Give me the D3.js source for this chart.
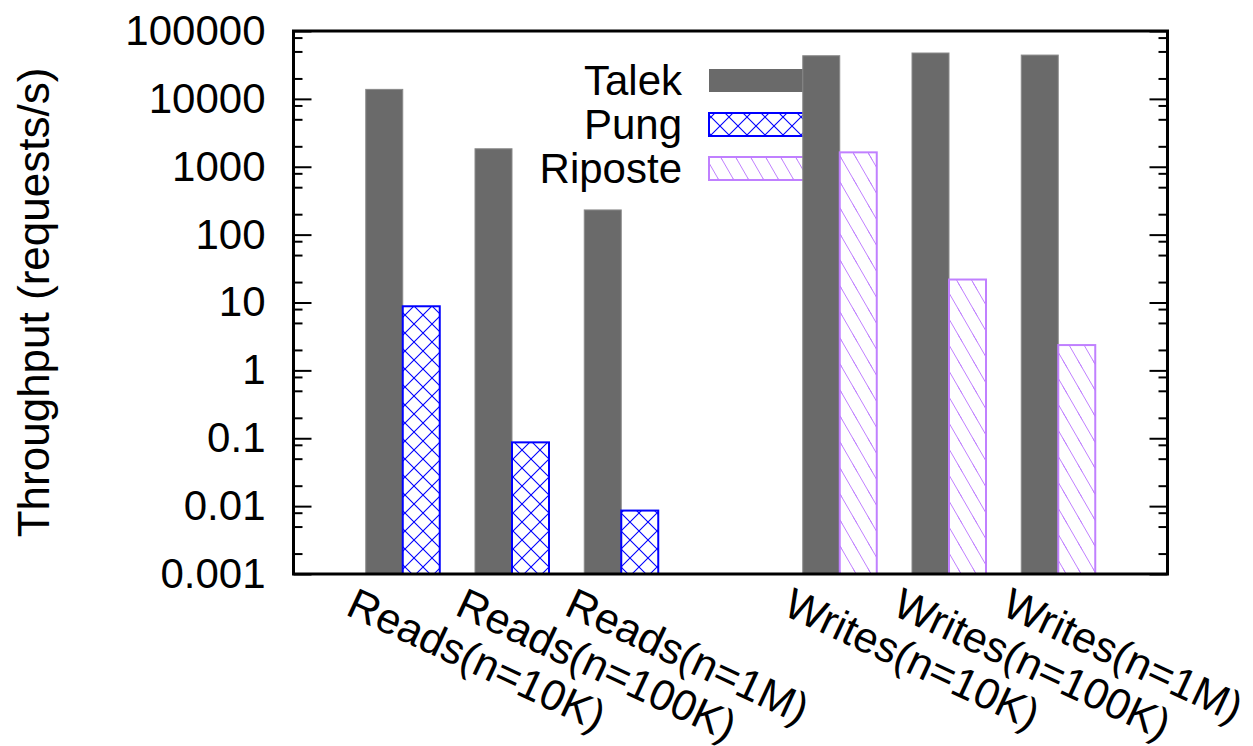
<!DOCTYPE html>
<html>
<head>
<meta charset="utf-8">
<script src="https://cdn.jsdelivr.net/npm/d3@7"></script>
<style>
  body { margin: 0; background: #fff; }
  svg { font-family: "Liberation Sans", Arial, Helvetica, sans-serif; }
</style>
</head>
<body>
<svg class="chart" width="1253" height="746"></svg>
<script>
// data
var categories = ["Reads(n=10K)", "Reads(n=100K)", "Reads(n=1M)", "Writes(n=10K)", "Writes(n=100K)", "Writes(n=1M)"];
var slots = [0, 1, 2, 4, 5, 6];   // gap between reads and writes
var talek = [13800, 1840, 231, 43200, 47400, 44200];
var pung = [8.8, 0.087, 0.0086, null, null, null];
var riposte = [null, null, null, 1630, 21.8, 2.36];
var majorTicks = [0.001, 0.01, 0.1, 1, 10, 100, 1000, 10000, 100000];
var minorSteps = [2, 5, 8];
var seriesNames = ["Talek", "Pung", "Riposte"];

var chart = d3.select('.chart'),
    plotLeft = 293.5, plotRight = 1167.5, plotTop = 31, plotBottom = 574,
    barW = 37;

var xScale = d3.scaleLinear().domain([-1, 7]).range([plotLeft, plotRight]);
var yScale = d3.scaleLog().domain([0.001, 100000]).range([plotBottom, plotTop]);

var minorTicks = [];
majorTicks.slice(0, -1).forEach(function(m){
  minorSteps.forEach(function(s){ minorTicks.push(m * s); });
});

// fill patterns
var defs = chart.append("defs");
var cross = defs.append("pattern")
    .attr("id", "cross")
    .attr("patternUnits", "userSpaceOnUse")
    .attr("width", 18).attr("height", 18);
cross.append("rect").attr("width", 18).attr("height", 18).attr("fill", "#fff");
cross.append("path")
    .attr("d", "M0,0L18,18M0,18L18,0M-2,2L2,-2M16,20L20,16M-2,16L2,20M16,-2L20,2")
    .attr("stroke", "#0000ff").attr("stroke-width", 1.1);

var hatch = defs.append("pattern")
    .attr("id", "hatch")
    .attr("patternUnits", "userSpaceOnUse")
    .attr("width", 15).attr("height", 26);
hatch.append("rect").attr("width", 15).attr("height", 26).attr("fill", "#fff");
hatch.append("path")
    .attr("d", "M0,0L15,26M-15,0L0,26M15,0L30,26M-2,-3.5L2,3.5M13,22.5L17,29.5")
    .attr("stroke", "#c080ff").attr("stroke-width", 1);

var styles = [
  {fill: "#6a6a6a", stroke: "#8a8a8a", sw: 1},
  {fill: "url(#cross)", stroke: "#0000ff", sw: 2},
  {fill: "url(#hatch)", stroke: "#c080ff", sw: 2}
];

// legend (bars get drawn over it)
var legend = chart.append("g");
seriesNames.forEach(function(name, i){
  var cy = 80.5 + i * 44;
  legend.append("text")
    .attr("x", 682).attr("y", cy).attr("dy", "0.35em")
    .attr("text-anchor", "end")
    .style("font-size", "42px")
    .text(name);
  legend.append("rect")
    .attr("x", 709).attr("y", cy - 11.5)
    .attr("width", 110).attr("height", 23)
    .attr("fill", styles[i].fill)
    .attr("stroke", i == 0 ? "none" : styles[i].stroke)
    .attr("stroke-width", styles[i].sw);
});

// bars
function drawBars(values, k, offset){
  var rows = values.map(function(v, i){ return {v: v, slot: slots[i]}; })
    .filter(function(d){ return d.v != null; });
  chart.append("g").selectAll("rect")
    .data(rows)
    .enter().append("rect")
      .attr("x", function(d){ return xScale(d.slot) + offset; })
      .attr("y", function(d){ return yScale(d.v); })
      .attr("width", barW)
      .attr("height", function(d){ return plotBottom - yScale(d.v); })
      .attr("fill", styles[k].fill)
      .attr("stroke", styles[k].stroke)
      .attr("stroke-width", styles[k].sw);
}
drawBars(talek, 0, -barW);
drawBars(pung, 1, 0);
drawBars(riposte, 2, 0);

// y axis, ticks pointing inward, mirrored on the right
chart.append("g")
    .attr("class", "axis y")
    .attr("transform", "translate(" + plotLeft + ",0)")
    .call(d3.axisLeft(yScale).tickValues(majorTicks).tickSize(-18).tickSizeOuter(0).tickPadding(28)
      .tickFormat(function(d){ return d3.format("")(+d.toPrecision(1)); }))
    .call(function(g){ g.select(".domain").remove(); })
    .selectAll("text").style("font-size", "42px").attr("fill", "#000");

chart.append("g")
    .attr("transform", "translate(" + plotLeft + ",0)")
    .call(d3.axisLeft(yScale).tickValues(minorTicks).tickSize(-9).tickSizeOuter(0).tickFormat(""))
    .call(function(g){ g.select(".domain").remove(); });

chart.append("g")
    .attr("transform", "translate(" + plotRight + ",0)")
    .call(d3.axisRight(yScale).tickValues(majorTicks).tickSize(-18).tickSizeOuter(0).tickFormat(""))
    .call(function(g){ g.select(".domain").remove(); });

chart.append("g")
    .attr("transform", "translate(" + plotRight + ",0)")
    .call(d3.axisRight(yScale).tickValues(minorTicks).tickSize(-9).tickSizeOuter(0).tickFormat(""))
    .call(function(g){ g.select(".domain").remove(); });

chart.selectAll(".tick line").attr("stroke", "#000").attr("stroke-width", 2);

// x axis labels, rotated
var xg = chart.append("g")
    .attr("class", "axis x")
    .attr("transform", "translate(0," + plotBottom + ")")
    .call(d3.axisBottom(xScale).tickValues(slots).tickSize(0)
      .tickFormat(function(d){ return categories[slots.indexOf(d)]; }));
xg.select(".domain").remove();
xg.selectAll("text")
    .attr("y", 0).attr("dy", 0)
    .attr("text-anchor", "start")
    .attr("transform", "translate(-59,40) rotate(25)")
    .style("font-size", "43px")
    .attr("fill", "#000");

// frame
chart.append("rect")
    .attr("x", plotLeft).attr("y", plotTop)
    .attr("width", plotRight - plotLeft).attr("height", plotBottom - plotTop)
    .attr("fill", "none").attr("stroke", "#000").attr("stroke-width", 3);

// y label
chart.append("text")
    .attr("transform", "translate(49," + ((plotTop + plotBottom) / 2) + ") rotate(-90)")
    .attr("text-anchor", "middle")
    .style("font-size", "44px")
    .text("Throughput (requests/s)");
</script>
</body>
</html>
